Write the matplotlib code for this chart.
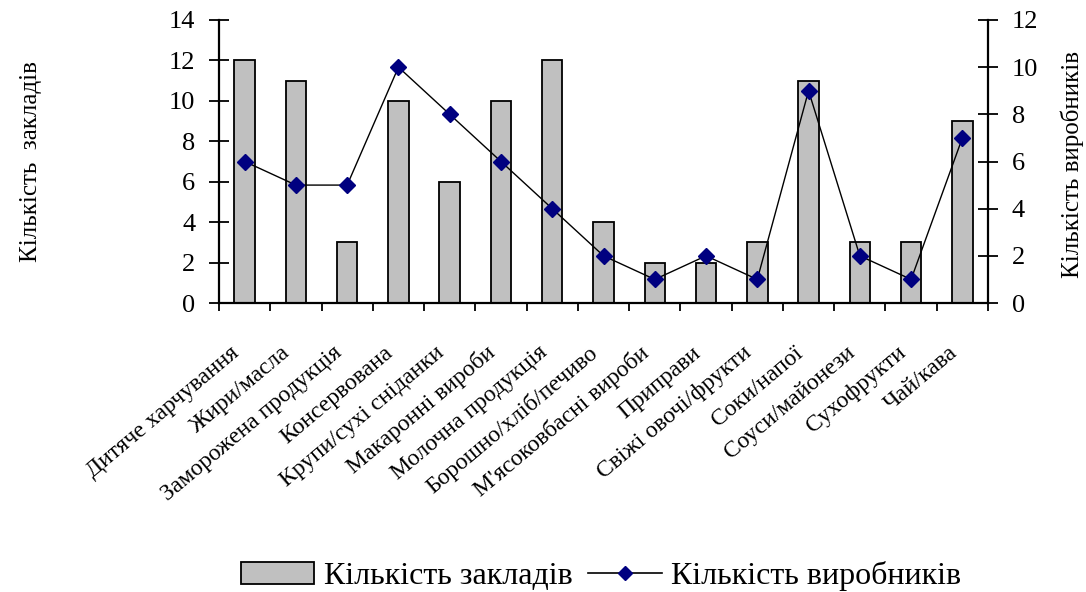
import matplotlib
matplotlib.use("Agg")
import matplotlib.pyplot as plt
import numpy as np
from matplotlib.lines import Line2D
from matplotlib.patches import Patch
import matplotlib.transforms as mtransforms

categories = ["Дитяче харчування", "Жири/масла", "Заморожена продукція", "Консервована",
              "Крупи/сухі сніданки", "Макаронні вироби", "Молочна продукція",
              "Борошно/хліб/печиво", "М'ясоковбасні вироби", "Приправи",
              "Свіжі овочі/фрукти", "Соки/напої", "Соуси/майонези", "Сухофрукти", "Чай/кава"]
zaklady = [12, 11, 3, 10, 6, 10, 12, 4, 2, 2, 3, 11, 3, 3, 9]
vyrobnyky = [6, 5, 5, 10, 8, 6, 4, 2, 1, 2, 1, 9, 2, 1, 7]
left_ticks = [0, 2, 4, 6, 8, 10, 12, 14]
right_ticks = [0, 2, 4, 6, 8, 10, 12]

plt.rcParams['font.family'] = ['Liberation Serif', 'DejaVu Serif']

fig = plt.figure(figsize=(10.86, 5.92), dpi=100)
ax = fig.add_axes([219/1086, 1-303/592, (988-219)/1086, (303-20)/592])
x = np.arange(len(categories))
ax.bar(x, zaklady, width=0.4, color='#c0c0c0', edgecolor='black', linewidth=1.3, zorder=2)
ax.set_xlim(-0.5, len(categories)-0.5)
ax.set_ylim(0, 14)
ax.set_yticks(left_ticks)
ax.tick_params(axis='y', direction='inout', length=14, width=1.3, labelsize=19, pad=10)
ax.set_xticks(x)
ax.set_xticklabels(categories, rotation=40, ha='right', va='center', rotation_mode='anchor', fontsize=17)
ax.tick_params(axis='x', length=0, pad=34)
offset = mtransforms.ScaledTranslation(-8/100, 0, fig.dpi_scale_trans)
for lbl in ax.get_xticklabels():
    lbl.set_transform(lbl.get_transform() + offset)
ax.set_xticks(np.arange(len(categories)+1)-0.5, minor=True)
ax.tick_params(axis='x', which='minor', direction='out', length=6, width=1.3)
ax.spines['top'].set_visible(False)
ax.spines['right'].set_visible(False)
for s in ['left', 'bottom']:
    ax.spines[s].set_linewidth(1.6)
ax.set_ylabel("Кількість  закладів", fontsize=18)
ax.yaxis.set_label_coords((42-219)/769, (303-162)/283)

ax2 = ax.twinx()
ax2.plot(x, vyrobnyky, color='black', linewidth=1, marker='D', markersize=8,
         markerfacecolor='#000080', markeredgecolor='#000080', zorder=3)
ax2.set_ylim(0, 12)
ax2.set_yticks(right_ticks)
ax2.tick_params(axis='y', direction='inout', length=14, width=1.3, labelsize=19, pad=10)
for s in ['top', 'left', 'bottom']:
    ax2.spines[s].set_visible(False)
ax2.spines['right'].set_linewidth(1.6)
ax2.set_ylabel("Кількість виробників", fontsize=18)
ax2.yaxis.set_label_coords((1061-219)/769, (303-165)/283)

handles = [Patch(facecolor='#c0c0c0', edgecolor='black', linewidth=1.3),
           Line2D([0], [0], color='black', linewidth=1.2, marker='D', markersize=7,
                  markerfacecolor='#000080', markeredgecolor='#000080')]
fig.legend(handles, ["Кількість закладів", "Кількість виробників"], loc='center',
           bbox_to_anchor=(601/1086, 1-576/592), ncol=2, frameon=False, fontsize=23,
           handlelength=2.3, handleheight=0.7, handletextpad=0.3, columnspacing=0.5)

fig.savefig("out.png", dpi=100)
